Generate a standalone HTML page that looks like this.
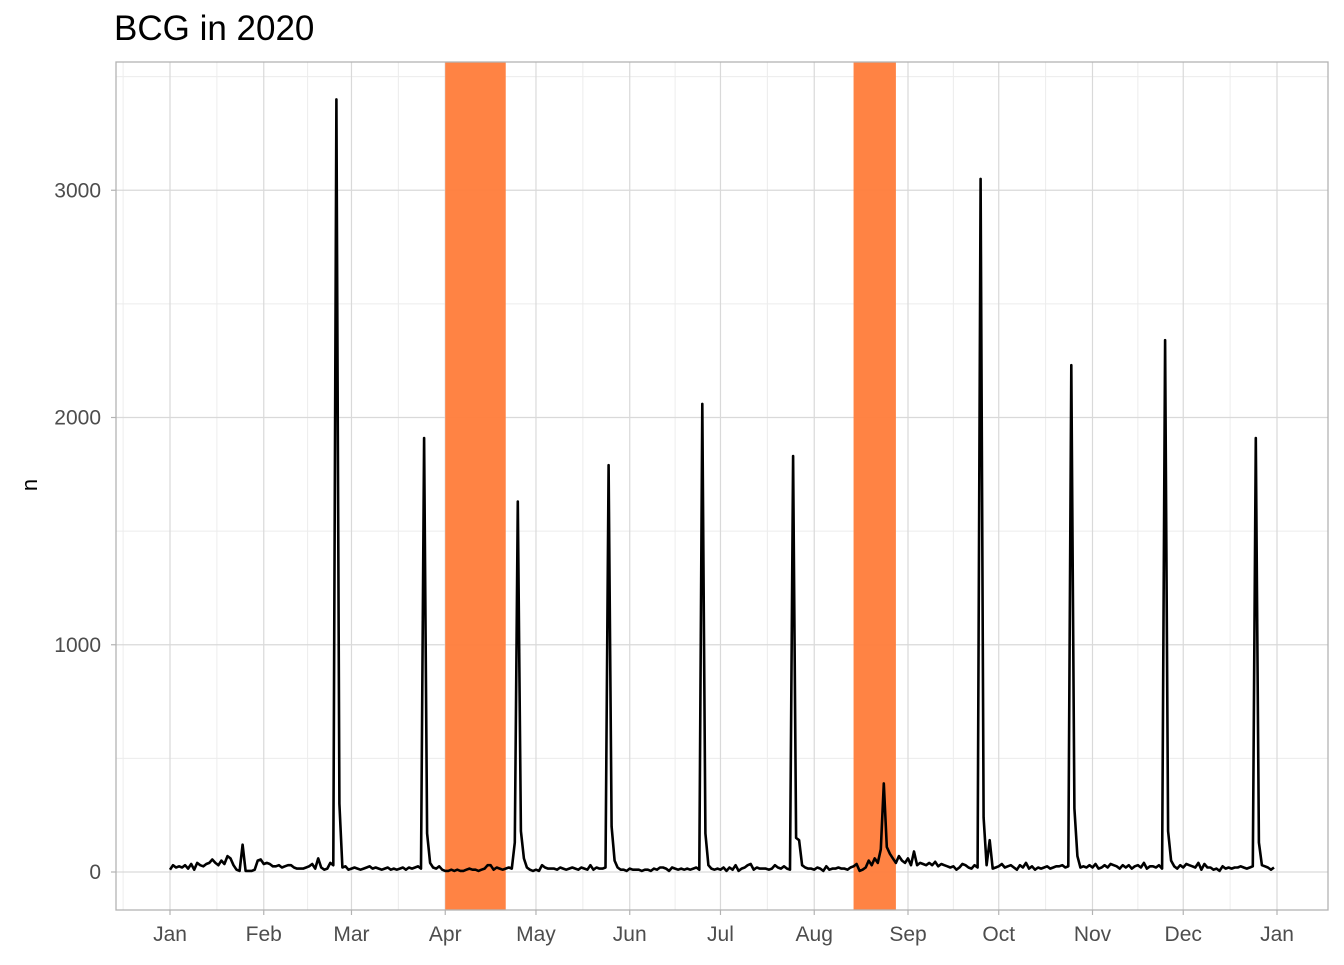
<!DOCTYPE html>
<html><head><meta charset="utf-8"><style>
body{margin:0;background:#fff;font-family:"Liberation Sans",sans-serif}
svg text{font-family:"Liberation Sans",sans-serif}
</style></head><body>
<svg id="c" width="1344" height="960">
<text x="114" y="40" font-size="35" fill="#000">BCG in 2020</text>
<text transform="translate(37,485) rotate(-90)" font-size="22" text-anchor="middle" fill="#000">n</text>
<g id="g"></g>
</svg>
<script>
const values=[10,30,20,25,20,30,15,35,10,40,
30,25,35,40,55,40,30,50,35,70,
60,30,10,5,120,5,5,5,10,50,
55,35,40,35,25,25,30,20,25,30,
30,20,15,15,15,20,25,35,15,60,
20,10,15,40,30,3400,300,20,25,10,
15,20,15,10,15,20,25,15,20,15,
10,15,20,10,15,10,15,20,10,20,
15,20,25,15,1910,170,40,20,15,25,
10,5,5,10,5,10,5,5,10,15,
10,10,5,10,15,30,30,10,20,15,
10,15,20,15,130,1630,180,60,20,10,
5,10,5,30,20,15,15,15,10,20,
15,10,15,20,15,10,20,15,10,30,
10,20,15,15,20,1790,200,50,20,10,
10,5,15,10,10,10,5,10,10,5,
15,10,20,20,15,5,20,15,10,15,
10,15,10,15,20,10,2060,170,30,15,
10,15,10,20,5,20,10,30,5,15,
20,30,35,10,20,15,15,15,10,15,
30,20,15,25,15,10,1830,150,140,30,
20,15,15,10,20,15,5,25,10,15,
15,20,15,15,10,20,25,35,5,10,
20,50,30,60,40,100,390,110,80,60,
40,70,50,40,60,30,90,30,40,35,
30,40,30,45,25,35,30,25,20,25,
10,20,35,30,20,15,30,20,3050,240,
30,140,15,20,25,35,20,25,30,20,
10,30,20,40,15,25,10,20,15,20,
25,15,20,25,25,30,20,25,2230,280,
70,20,25,20,30,20,35,15,20,30,
20,35,30,25,15,30,20,30,15,25,
30,20,40,15,25,25,20,30,15,2340,
180,50,25,15,30,20,35,30,25,20,
40,10,35,20,20,10,15,5,25,15,
20,15,20,20,25,20,15,20,25,1910,
130,30,25,20,10,20];
const monthLabels=["Jan","Feb","Mar","Apr","May","Jun","Jul","Aug","Sep","Oct","Nov","Dec","Jan"];
const monthDays=[0,31,60,91,121,152,182,213,244,274,305,335,366];
const yTicks=[0,1000,2000,3000];
const bandStarts=[91,226];
const bandEnds=[111,240];
const L=116,R=1328,T=62,B=910;
const X=d=>170+d*(1277-170)/366;
const Y=v=>872-v*0.22725;
const g=document.getElementById('g');
const NS='http://www.w3.org/2000/svg';
function mk(t,a){const e=document.createElementNS(NS,t);for(const k in a)e.setAttribute(k,a[k]);g.appendChild(e);return e;}
for(let v=-500;v<=3500;v+=1000){const y=Y(v);if(y<T||y>B)continue;const e=mk('line',{x1:L,x2:R,y1:y,y2:y,stroke:'#ececec','stroke-width':1});

}
for(let i=0;i<monthDays.length-1;i++){const x=X((monthDays[i]+monthDays[i+1])/2);const e=mk('line',{x1:x,x2:x,y1:T,y2:B,stroke:'#ececec','stroke-width':1});

}
{const x=X(-15.5);const e=mk('line',{x1:x,x2:x,y1:T,y2:B,stroke:'#ececec','stroke-width':1});

}
yTicks.forEach(v=>{const y=Y(v);const e=mk('line',{x1:L,x2:R,y1:y,y2:y,stroke:'#d9d9d9','stroke-width':1.2});


const t=mk('text',{x:101,y:y+7,'font-size':21,'text-anchor':'end',fill:'#4d4d4d'});t.textContent=v;


const k=mk('line',{x1:L-5,x2:L,y1:y,y2:y,stroke:'#b3b3b3','stroke-width':1.2});

});
monthDays.forEach((d,i)=>{const x=X(d);const e=mk('line',{x1:x,x2:x,y1:T,y2:B,stroke:'#d9d9d9','stroke-width':1.2});


const t=mk('text',{x:x,y:941,'font-size':21,'text-anchor':'middle',fill:'#4d4d4d'});t.textContent=monthLabels[i];


const k=mk('line',{x1:x,x2:x,y1:B,y2:B+5,stroke:'#b3b3b3','stroke-width':1.2});

});
bandStarts.forEach((s,i)=>{const r=mk('rect',{x:X(s),y:T,width:X(bandEnds[i])-X(s),height:B-T,fill:'#ff7f3e','fill-opacity':0.97});

});
const p=mk('polyline',{points:values.map((v,i)=>X(i).toFixed(1)+','+Y(v).toFixed(1)).join(' '),fill:'none',stroke:'#000','stroke-width':2.6,'stroke-linejoin':'round'});


const br=mk('rect',{x:L,y:T,width:R-L,height:B-T,fill:'none',stroke:'#b3b3b3','stroke-width':1.3});


</script>
</body></html>
